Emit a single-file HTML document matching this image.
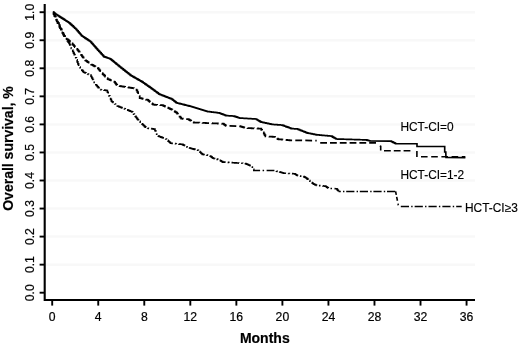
<!DOCTYPE html>
<html><head><meta charset="utf-8"><style>
html,body{margin:0;padding:0;background:#fff;}
svg{display:block;filter:grayscale(1);font-family:"Liberation Sans",sans-serif;}
</style></head><body>
<svg width="520" height="347" viewBox="0 0 520 347">
<rect width="520" height="347" fill="#fff"/>
<g stroke="#f8f8f8" stroke-width="2.5" fill="none"><line x1="46" y1="264.65" x2="475" y2="264.65"/><line x1="46" y1="236.60" x2="475" y2="236.60"/><line x1="46" y1="208.55" x2="475" y2="208.55"/><line x1="46" y1="180.50" x2="475" y2="180.50"/><line x1="46" y1="152.45" x2="475" y2="152.45"/><line x1="46" y1="124.40" x2="475" y2="124.40"/><line x1="46" y1="96.35" x2="475" y2="96.35"/><line x1="46" y1="68.30" x2="475" y2="68.30"/><line x1="46" y1="40.25" x2="475" y2="40.25"/><line x1="46" y1="12.20" x2="475" y2="12.20"/></g>
<g stroke="#000" stroke-width="2.1" fill="none">
<path d="M44.7,4 V300 H475"/>
</g>
<g stroke="#000" stroke-width="1.9" fill="none"><line x1="39.6" y1="292.70" x2="45" y2="292.70"/><line x1="39.6" y1="264.65" x2="45" y2="264.65"/><line x1="39.6" y1="236.60" x2="45" y2="236.60"/><line x1="39.6" y1="208.55" x2="45" y2="208.55"/><line x1="39.6" y1="180.50" x2="45" y2="180.50"/><line x1="39.6" y1="152.45" x2="45" y2="152.45"/><line x1="39.6" y1="124.40" x2="45" y2="124.40"/><line x1="39.6" y1="96.35" x2="45" y2="96.35"/><line x1="39.6" y1="68.30" x2="45" y2="68.30"/><line x1="39.6" y1="40.25" x2="45" y2="40.25"/><line x1="39.6" y1="12.20" x2="45" y2="12.20"/><line x1="52.20" y1="300" x2="52.20" y2="305.6"/><line x1="98.24" y1="300" x2="98.24" y2="305.6"/><line x1="144.28" y1="300" x2="144.28" y2="305.6"/><line x1="190.32" y1="300" x2="190.32" y2="305.6"/><line x1="236.36" y1="300" x2="236.36" y2="305.6"/><line x1="282.40" y1="300" x2="282.40" y2="305.6"/><line x1="328.44" y1="300" x2="328.44" y2="305.6"/><line x1="374.48" y1="300" x2="374.48" y2="305.6"/><line x1="420.52" y1="300" x2="420.52" y2="305.6"/><line x1="466.56" y1="300" x2="466.56" y2="305.6"/></g>
<g font-size="12.2px" fill="#000" stroke="#000" stroke-width="0.2"><text x="52.20" y="320.5" text-anchor="middle">0</text><text x="98.24" y="320.5" text-anchor="middle">4</text><text x="144.28" y="320.5" text-anchor="middle">8</text><text x="190.32" y="320.5" text-anchor="middle">12</text><text x="236.36" y="320.5" text-anchor="middle">16</text><text x="282.40" y="320.5" text-anchor="middle">20</text><text x="328.44" y="320.5" text-anchor="middle">24</text><text x="374.48" y="320.5" text-anchor="middle">28</text><text x="420.52" y="320.5" text-anchor="middle">32</text><text x="466.56" y="320.5" text-anchor="middle">36</text><text transform="translate(34.4,292.70) rotate(-90)" text-anchor="middle">0.0</text><text transform="translate(34.4,264.65) rotate(-90)" text-anchor="middle">0.1</text><text transform="translate(34.4,236.60) rotate(-90)" text-anchor="middle">0.2</text><text transform="translate(34.4,208.55) rotate(-90)" text-anchor="middle">0.3</text><text transform="translate(34.4,180.50) rotate(-90)" text-anchor="middle">0.4</text><text transform="translate(34.4,152.45) rotate(-90)" text-anchor="middle">0.5</text><text transform="translate(34.4,124.40) rotate(-90)" text-anchor="middle">0.6</text><text transform="translate(34.4,96.35) rotate(-90)" text-anchor="middle">0.7</text><text transform="translate(34.4,68.30) rotate(-90)" text-anchor="middle">0.8</text><text transform="translate(34.4,40.25) rotate(-90)" text-anchor="middle">0.9</text><text transform="translate(34.4,12.20) rotate(-90)" text-anchor="middle">1.0</text></g>
<g font-size="11.9px" fill="#000" stroke="#000" stroke-width="0.15">
<text x="400.4" y="131.2">HCT-CI=0</text>
<text x="400.4" y="178.8">HCT-CI=1-2</text>
<text x="465" y="212">HCT-CI≥3</text>
</g>
<g font-size="14px" font-weight="bold" fill="#000" stroke="#000" stroke-width="0.2">
<text x="264.8" y="343.2" text-anchor="middle">Months</text>
<text transform="translate(13.4,148.5) rotate(-90)" text-anchor="middle">Overall survival, %</text>
</g>
<g fill="none" stroke="#000" stroke-linejoin="miter">
<polyline stroke-width="1.65" points="52.90,12.40 53.70,12.40 53.70,12.92 54.51,12.92 54.51,13.44 55.31,13.44 55.31,13.96 56.12,13.96 56.12,14.48 56.92,14.48 56.92,15.00 57.73,15.00 57.73,15.52 58.53,15.52 58.53,16.04 59.34,16.04 59.34,16.56 60.14,16.56 60.14,17.08 60.95,17.08 60.95,17.60 61.75,17.60 61.75,18.12 62.56,18.12 62.56,18.64 63.36,18.64 63.36,19.16 64.17,19.16 64.17,19.68 64.97,19.68 64.97,20.20 65.78,20.20 65.78,20.72 66.59,20.72 66.59,21.24 67.39,21.24 67.39,21.76 68.19,21.76 68.19,22.28 69.00,22.28 69.00,22.80 69.84,22.80 69.84,23.57 70.67,23.57 70.67,24.35 71.51,24.35 71.51,25.12 72.35,25.12 72.35,25.90 73.19,25.90 73.19,26.68 74.03,26.68 74.03,27.45 74.86,27.45 74.86,28.23 75.70,28.23 75.70,29.00 76.53,29.00 76.53,29.96 77.36,29.96 77.36,30.91 78.19,30.91 78.19,31.87 79.01,31.87 79.01,32.83 79.84,32.83 79.84,33.79 80.67,33.79 80.67,34.74 81.50,34.74 81.50,35.70 82.29,35.70 82.29,36.23 83.08,36.23 83.08,36.75 83.87,36.75 83.87,37.28 84.66,37.28 84.66,37.81 85.45,37.81 85.45,38.34 86.25,38.34 86.25,38.86 87.04,38.86 87.04,39.39 87.83,39.39 87.83,39.92 88.62,39.92 88.62,40.45 89.41,40.45 89.41,40.97 90.20,40.97 90.20,41.50 90.97,41.50 90.97,42.37 91.74,42.37 91.74,43.24 92.51,43.24 92.51,44.11 93.28,44.11 93.28,44.98 94.05,44.98 94.05,45.85 94.82,45.85 94.82,46.72 95.59,46.72 95.59,47.59 96.36,47.59 96.36,48.46 97.13,48.46 97.13,49.33 97.90,49.33 97.90,50.20 98.73,50.20 98.73,51.11 99.56,51.11 99.56,52.03 100.39,52.03 100.39,52.94 101.21,52.94 101.21,53.86 102.04,53.86 102.04,54.77 102.87,54.77 102.87,55.69 103.70,55.69 103.70,56.60 104.49,56.60 104.49,56.88 105.28,56.88 105.28,57.15 106.06,57.15 106.06,57.42 106.85,57.42 106.85,57.70 107.64,57.70 107.64,57.98 108.42,57.98 108.42,58.25 109.21,58.25 109.21,58.52 110.00,58.52 110.00,58.80 110.83,58.80 110.83,59.48 111.67,59.48 111.67,60.17 112.50,60.17 112.50,60.85 113.33,60.85 113.33,61.53 114.17,61.53 114.17,62.22 115.00,62.22 115.00,62.90 115.83,62.90 115.83,63.58 116.67,63.58 116.67,64.27 117.50,64.27 117.50,64.95 118.33,64.95 118.33,65.63 119.17,65.63 119.17,66.32 120.00,66.32 120.00,67.00 120.81,67.00 120.81,67.64 121.62,67.64 121.62,68.28 122.42,68.28 122.42,68.92 123.23,68.92 123.23,69.55 124.04,69.55 124.04,70.19 124.85,70.19 124.85,70.83 125.65,70.83 125.65,71.47 126.46,71.47 126.46,72.11 127.27,72.11 127.27,72.75 128.08,72.75 128.08,73.38 128.88,73.38 128.88,74.02 129.69,74.02 129.69,74.66 130.50,74.66 130.50,75.30 131.29,75.30 131.29,75.75 132.09,75.75 132.09,76.20 132.88,76.20 132.88,76.65 133.67,76.65 133.67,77.10 134.46,77.10 134.46,77.55 135.26,77.55 135.26,78.00 136.05,78.00 136.05,78.45 136.84,78.45 136.84,78.90 137.64,78.90 137.64,79.35 138.43,79.35 138.43,79.80 139.22,79.80 139.22,80.25 140.01,80.25 140.01,80.70 140.81,80.70 140.81,81.15 141.60,81.15 141.60,81.60 142.40,81.60 142.40,82.16 143.20,82.16 143.20,82.72 144.00,82.72 144.00,83.27 144.80,83.27 144.80,83.83 145.60,83.83 145.60,84.39 146.40,84.39 146.40,84.95 147.20,84.95 147.20,85.51 148.00,85.51 148.00,86.07 148.80,86.07 148.80,86.62 149.60,86.62 149.60,87.18 150.40,87.18 150.40,87.74 151.20,87.74 151.20,88.30 151.98,88.30 151.98,88.88 152.76,88.88 152.76,89.46 153.54,89.46 153.54,90.04 154.32,90.04 154.32,90.62 155.10,90.62 155.10,91.20 155.88,91.20 155.88,91.78 156.66,91.78 156.66,92.36 157.44,92.36 157.44,92.94 158.22,92.94 158.22,93.52 159.00,93.52 159.00,94.10 159.78,94.10 159.78,94.41 160.56,94.41 160.56,94.71 161.34,94.71 161.34,95.02 162.12,95.02 162.12,95.32 162.91,95.32 162.91,95.63 163.69,95.63 163.69,95.94 164.47,95.94 164.47,96.24 165.25,96.24 165.25,96.55 166.03,96.55 166.03,96.86 166.81,96.86 166.81,97.16 167.59,97.16 167.59,97.47 168.38,97.47 168.38,97.78 169.16,97.78 169.16,98.08 169.94,98.08 169.94,98.39 170.72,98.39 170.72,98.69 171.50,98.69 171.50,99.00 172.30,99.00 172.30,99.63 173.10,99.63 173.10,100.27 173.90,100.27 173.90,100.90 174.70,100.90 174.70,101.53 175.50,101.53 175.50,102.17 176.30,102.17 176.30,102.80 177.12,102.80 177.12,103.01 177.93,103.01 177.93,103.21 178.75,103.21 178.75,103.42 179.56,103.42 179.56,103.62 180.38,103.62 180.38,103.83 181.19,103.83 181.19,104.03 182.01,104.03 182.01,104.24 182.83,104.24 182.83,104.44 183.64,104.44 183.64,104.65 184.46,104.65 184.46,104.85 185.27,104.85 185.27,105.06 186.09,105.06 186.09,105.26 186.91,105.26 186.91,105.47 187.72,105.47 187.72,105.67 188.54,105.67 188.54,105.88 189.35,105.88 189.35,106.08 190.17,106.08 190.17,106.29 190.98,106.29 190.98,106.49 191.80,106.49 191.80,106.70 192.61,106.70 192.61,106.95 193.42,106.95 193.42,107.21 194.23,107.21 194.23,107.46 195.04,107.46 195.04,107.71 195.85,107.71 195.85,107.96 196.66,107.96 196.66,108.22 197.47,108.22 197.47,108.47 198.28,108.47 198.28,108.72 199.09,108.72 199.09,108.97 199.91,108.97 199.91,109.23 200.72,109.23 200.72,109.48 201.53,109.48 201.53,109.73 202.34,109.73 202.34,109.98 203.15,109.98 203.15,110.24 203.96,110.24 203.96,110.49 204.77,110.49 204.77,110.74 205.58,110.74 205.58,110.99 206.39,110.99 206.39,111.25 207.20,111.25 207.20,111.50 207.97,111.50 207.97,111.59 208.75,111.59 208.75,111.69 209.52,111.69 209.52,111.78 210.29,111.78 210.29,111.87 211.07,111.87 211.07,111.97 211.84,111.97 211.84,112.06 212.61,112.06 212.61,112.15 213.39,112.15 213.39,112.25 214.16,112.25 214.16,112.34 214.93,112.34 214.93,112.43 215.71,112.43 215.71,112.53 216.48,112.53 216.48,112.62 217.25,112.62 217.25,112.71 218.03,112.71 218.03,112.81 218.80,112.81 218.80,112.90 219.60,112.90 219.60,113.20 220.40,113.20 220.40,113.50 221.20,113.50 221.20,113.80 222.00,113.80 222.00,114.10 222.80,114.10 222.80,114.40 223.60,114.40 223.60,114.70 224.40,114.70 224.40,115.00 225.20,115.00 225.20,115.30 226.00,115.30 226.00,115.60 226.83,115.60 226.83,115.66 227.67,115.66 227.67,115.71 228.50,115.71 228.50,115.77 229.33,115.77 229.33,115.82 230.17,115.82 230.17,115.88 231.00,115.88 231.00,115.93 231.83,115.93 231.83,115.99 232.67,115.99 232.67,116.04 233.50,116.04 233.50,116.10 234.33,116.10 234.33,116.37 235.16,116.37 235.16,116.64 235.99,116.64 235.99,116.91 236.81,116.91 236.81,117.19 237.64,117.19 237.64,117.46 238.47,117.46 238.47,117.73 239.30,117.73 239.30,118.00 240.12,118.00 240.12,118.05 240.94,118.05 240.94,118.10 241.76,118.10 241.76,118.15 242.58,118.15 242.58,118.20 243.40,118.20 243.40,118.25 244.22,118.25 244.22,118.30 245.04,118.30 245.04,118.35 245.86,118.35 245.86,118.40 246.68,118.40 246.68,118.45 247.50,118.45 247.50,118.50 248.32,118.50 248.32,118.55 249.14,118.55 249.14,118.60 249.96,118.60 249.96,118.65 250.78,118.65 250.78,118.70 251.60,118.70 251.60,118.75 252.42,118.75 252.42,118.80 253.24,118.80 253.24,118.85 254.06,118.85 254.06,118.90 254.88,118.90 254.88,118.95 255.70,118.95 255.70,119.00 256.50,119.00 256.50,119.48 257.30,119.48 257.30,119.97 258.10,119.97 258.10,120.45 258.90,120.45 258.90,120.93 259.70,120.93 259.70,121.42 260.50,121.42 260.50,121.90 261.27,121.90 261.27,122.07 262.05,122.07 262.05,122.23 262.82,122.23 262.82,122.40 263.59,122.40 263.59,122.57 264.37,122.57 264.37,122.73 265.14,122.73 265.14,122.90 265.91,122.90 265.91,123.07 266.69,123.07 266.69,123.23 267.46,123.23 267.46,123.40 268.23,123.40 268.23,123.57 269.01,123.57 269.01,123.73 269.78,123.73 269.78,123.90 270.55,123.90 270.55,124.07 271.33,124.07 271.33,124.23 272.10,124.23 272.10,124.40 272.91,124.40 272.91,124.46 273.72,124.46 273.72,124.52 274.53,124.52 274.53,124.58 275.33,124.58 275.33,124.63 276.14,124.63 276.14,124.69 276.95,124.69 276.95,124.75 277.76,124.75 277.76,124.81 278.57,124.81 278.57,124.87 279.38,124.87 279.38,124.92 280.18,124.92 280.18,124.98 280.99,124.98 280.99,125.04 281.80,125.04 281.80,125.10 282.60,125.10 282.60,125.39 283.40,125.39 283.40,125.68 284.20,125.68 284.20,125.97 285.00,125.97 285.00,126.27 285.80,126.27 285.80,126.56 286.60,126.56 286.60,126.85 287.40,126.85 287.40,127.14 288.20,127.14 288.20,127.43 289.00,127.43 289.00,127.72 289.80,127.72 289.80,128.02 290.60,128.02 290.60,128.31 291.40,128.31 291.40,128.60 292.23,128.60 292.23,128.66 293.06,128.66 293.06,128.71 293.89,128.71 293.89,128.77 294.71,128.77 294.71,128.83 295.54,128.83 295.54,128.89 296.37,128.89 296.37,128.94 297.20,128.94 297.20,129.00 298.01,129.00 298.01,129.32 298.82,129.32 298.82,129.65 299.62,129.65 299.62,129.97 300.43,129.97 300.43,130.30 301.24,130.30 301.24,130.62 302.05,130.62 302.05,130.95 302.86,130.95 302.86,131.28 303.67,131.28 303.67,131.60 304.47,131.60 304.47,131.93 305.28,131.93 305.28,132.25 306.09,132.25 306.09,132.58 306.90,132.58 306.90,132.90 307.70,132.90 307.70,133.06 308.50,133.06 308.50,133.22 309.30,133.22 309.30,133.38 310.10,133.38 310.10,133.53 310.90,133.53 310.90,133.69 311.70,133.69 311.70,133.85 312.50,133.85 312.50,134.01 313.30,134.01 313.30,134.17 314.10,134.17 314.10,134.33 314.90,134.33 314.90,134.48 315.70,134.48 315.70,134.64 316.50,134.64 316.50,134.80 317.32,134.80 317.32,134.87 318.13,134.87 318.13,134.94 318.95,134.94 318.95,135.02 319.77,135.02 319.77,135.09 320.58,135.09 320.58,135.16 321.40,135.16 321.40,135.23 322.22,135.23 322.22,135.31 323.03,135.31 323.03,135.38 323.85,135.38 323.85,135.45 324.67,135.45 324.67,135.52 325.48,135.52 325.48,135.59 326.30,135.59 326.30,135.67 327.12,135.67 327.12,135.74 327.93,135.74 327.93,135.81 328.75,135.81 328.75,135.88 329.57,135.88 329.57,135.96 330.38,135.96 330.38,136.03 331.20,136.03 331.20,136.10 332.02,136.10 332.02,136.58 332.83,136.58 332.83,137.07 333.65,137.07 333.65,137.55 334.47,137.55 334.47,138.03 335.28,138.03 335.28,138.52 336.10,138.52 336.10,139.00 336.91,139.00 336.91,139.02 337.72,139.02 337.72,139.05 338.52,139.05 338.52,139.07 339.33,139.07 339.33,139.10 340.14,139.10 340.14,139.12 340.95,139.12 340.95,139.15 341.76,139.15 341.76,139.17 342.56,139.17 342.56,139.19 343.37,139.19 343.37,139.22 344.18,139.22 344.18,139.24 344.99,139.24 344.99,139.27 345.80,139.27 345.80,139.29 346.61,139.29 346.61,139.32 347.41,139.32 347.41,139.34 348.22,139.34 348.22,139.36 349.03,139.36 349.03,139.39 349.84,139.39 349.84,139.41 350.65,139.41 350.65,139.44 351.45,139.44 351.45,139.46 352.26,139.46 352.26,139.49 353.07,139.49 353.07,139.51 353.88,139.51 353.88,139.54 354.69,139.54 354.69,139.56 355.49,139.56 355.49,139.58 356.30,139.58 356.30,139.61 357.11,139.61 357.11,139.63 357.92,139.63 357.92,139.66 358.73,139.66 358.73,139.68 359.54,139.68 359.54,139.71 360.34,139.71 360.34,139.73 361.15,139.73 361.15,139.75 361.96,139.75 361.96,139.78 362.77,139.78 362.77,139.80 363.58,139.80 363.58,139.83 364.38,139.83 364.38,139.85 365.19,139.85 365.19,139.88 366.00,139.88 366.00,139.90 366.76,139.90 366.76,140.10 367.52,140.10 367.52,140.30 368.28,140.30 368.28,140.50 369.04,140.50 369.04,140.70 369.80,140.70 369.80,140.90 390.40,141.10 391.25,141.10 391.25,141.52 392.10,141.52 392.10,141.93 392.95,141.93 392.95,142.35 393.80,142.35 393.80,142.77 394.65,142.77 394.65,143.18 395.50,143.18 395.50,143.60 416.30,143.70 417.00,143.70 417.00,146.50 444.40,146.50 444.70,146.50 444.70,152.00 445.80,152.00 445.80,153.00 446.00,157.50 465.40,157.60"/>
<polyline stroke-width="1.75" stroke-dasharray="6.8 3.2" points="52.90,12.40 53.67,12.40 53.67,14.20 54.44,14.20 54.44,16.00 55.21,16.00 55.21,17.80 55.99,17.80 55.99,19.60 56.76,19.60 56.76,21.40 57.53,21.40 57.53,23.20 58.30,23.20 58.30,25.00 59.14,25.00 59.14,26.57 59.97,26.57 59.97,28.15 60.81,28.15 60.81,29.73 61.65,29.73 61.65,31.30 62.49,31.30 62.49,32.88 63.33,32.88 63.33,34.45 64.16,34.45 64.16,36.03 65.00,36.03 65.00,37.60 65.84,37.60 65.84,38.30 66.69,38.30 66.69,39.00 67.53,39.00 67.53,39.70 68.37,39.70 68.37,40.40 69.21,40.40 69.21,41.10 70.06,41.10 70.06,41.80 70.90,41.80 70.90,42.50 71.69,42.50 71.69,43.40 72.48,43.40 72.48,44.30 73.27,44.30 73.27,45.20 74.06,45.20 74.06,46.10 74.84,46.10 74.84,47.00 75.63,47.00 75.63,47.90 76.42,47.90 76.42,48.80 77.21,48.80 77.21,49.70 78.00,49.70 78.00,50.60 78.80,50.60 78.80,51.74 79.60,51.74 79.60,52.88 80.40,52.88 80.40,54.01 81.20,54.01 81.20,55.15 82.00,55.15 82.00,56.29 82.80,56.29 82.80,57.43 83.60,57.43 83.60,58.56 84.40,58.56 84.40,59.70 85.25,59.70 85.25,60.30 86.10,60.30 86.10,60.90 86.95,60.90 86.95,61.50 87.80,61.50 87.80,62.10 88.65,62.10 88.65,62.70 89.50,62.70 89.50,63.30 90.35,63.30 90.35,63.90 91.20,63.90 91.20,64.50 92.04,64.50 92.04,64.97 92.88,64.97 92.88,65.45 93.71,65.45 93.71,65.92 94.55,65.92 94.55,66.40 95.39,66.40 95.39,66.88 96.23,66.88 96.23,67.35 97.06,67.35 97.06,67.83 97.90,67.83 97.90,68.30 98.68,68.30 98.68,69.28 99.46,69.28 99.46,70.26 100.24,70.26 100.24,71.24 101.02,71.24 101.02,72.22 101.80,72.22 101.80,73.20 102.63,73.20 102.63,74.03 103.46,74.03 103.46,74.86 104.29,74.86 104.29,75.69 105.11,75.69 105.11,76.51 105.94,76.51 105.94,77.34 106.77,77.34 106.77,78.17 107.60,78.17 107.60,79.00 108.44,79.00 108.44,79.36 109.27,79.36 109.27,79.72 110.11,79.72 110.11,80.09 110.95,80.09 110.95,80.45 111.79,80.45 111.79,80.81 112.62,80.81 112.62,81.18 113.46,81.18 113.46,81.54 114.30,81.54 114.30,81.90 115.03,81.90 115.03,82.85 115.75,82.85 115.75,83.80 116.47,83.80 116.47,84.75 117.20,84.75 117.20,85.70 117.99,85.70 117.99,85.82 118.78,85.82 118.78,85.95 119.57,85.95 119.57,86.07 120.36,86.07 120.36,86.19 121.15,86.19 121.15,86.31 121.95,86.31 121.95,86.44 122.74,86.44 122.74,86.56 123.53,86.56 123.53,86.68 124.32,86.68 124.32,86.80 125.11,86.80 125.11,86.93 125.90,86.93 125.90,87.05 126.69,87.05 126.69,87.17 127.48,87.17 127.48,87.30 128.27,87.30 128.27,87.42 129.06,87.42 129.06,87.54 129.85,87.54 129.85,87.66 130.65,87.66 130.65,87.79 131.44,87.79 131.44,87.91 132.23,87.91 132.23,88.03 133.02,88.03 133.02,88.15 133.81,88.15 133.81,88.28 134.60,88.28 134.60,88.40 135.80,88.40 136.58,88.40 136.58,90.32 137.36,90.32 137.36,92.24 138.14,92.24 138.14,94.16 138.92,94.16 138.92,96.08 139.70,96.08 139.70,98.00 140.47,98.00 140.47,98.19 141.24,98.19 141.24,98.38 142.01,98.38 142.01,98.57 142.78,98.57 142.78,98.76 143.55,98.76 143.55,98.95 144.32,98.95 144.32,99.14 145.09,99.14 145.09,99.33 145.86,99.33 145.86,99.52 146.63,99.52 146.63,99.71 147.40,99.71 147.40,99.90 148.23,99.90 148.23,100.59 149.06,100.59 149.06,101.27 149.89,101.27 149.89,101.96 150.71,101.96 150.71,102.64 151.54,102.64 151.54,103.33 152.37,103.33 152.37,104.01 153.20,104.01 153.20,104.70 153.99,104.70 153.99,104.74 154.78,104.74 154.78,104.77 155.57,104.77 155.57,104.81 156.36,104.81 156.36,104.85 157.15,104.85 157.15,104.88 157.95,104.88 157.95,104.92 158.74,104.92 158.74,104.95 159.53,104.95 159.53,104.99 160.32,104.99 160.32,105.03 161.11,105.03 161.11,105.06 161.90,105.06 161.90,105.10 162.70,105.10 162.70,105.47 163.50,105.47 163.50,105.85 164.30,105.85 164.30,106.22 165.10,106.22 165.10,106.60 165.90,106.60 165.90,106.97 166.70,106.97 166.70,107.35 167.50,107.35 167.50,107.72 168.30,107.72 168.30,108.10 169.10,108.10 169.10,108.47 169.90,108.47 169.90,108.85 170.70,108.85 170.70,109.22 171.50,109.22 171.50,109.60 172.30,109.60 172.30,110.08 173.10,110.08 173.10,110.57 173.90,110.57 173.90,111.05 174.70,111.05 174.70,111.53 175.50,111.53 175.50,112.02 176.30,112.02 176.30,112.50 177.12,112.50 177.12,113.52 177.93,113.52 177.93,114.53 178.75,114.53 178.75,115.55 179.57,115.55 179.57,116.57 180.38,116.57 180.38,117.58 181.20,117.58 181.20,118.60 182.04,118.60 182.04,118.67 182.88,118.67 182.88,118.75 183.71,118.75 183.71,118.83 184.55,118.83 184.55,118.90 185.39,118.90 185.39,118.97 186.22,118.97 186.22,119.05 187.06,119.05 187.06,119.12 187.90,119.12 187.90,119.20 188.73,119.20 188.73,119.67 189.56,119.67 189.56,120.14 190.39,120.14 190.39,120.61 191.21,120.61 191.21,121.09 192.04,121.09 192.04,121.56 192.87,121.56 192.87,122.03 193.70,122.03 193.70,122.50 194.51,122.50 194.51,122.53 195.31,122.53 195.31,122.57 196.12,122.57 196.12,122.60 196.92,122.60 196.92,122.63 197.73,122.63 197.73,122.67 198.53,122.67 198.53,122.70 199.34,122.70 199.34,122.73 200.14,122.73 200.14,122.77 200.95,122.77 200.95,122.80 201.76,122.80 201.76,122.83 202.56,122.83 202.56,122.87 203.37,122.87 203.37,122.90 204.17,122.90 204.17,122.93 204.98,122.93 204.98,122.97 205.78,122.97 205.78,123.00 206.59,123.00 206.59,123.03 207.39,123.03 207.39,123.07 208.20,123.07 208.20,123.10 209.01,123.10 209.01,123.13 209.81,123.13 209.81,123.17 210.62,123.17 210.62,123.20 211.42,123.20 211.42,123.23 212.23,123.23 212.23,123.27 213.03,123.27 213.03,123.30 213.84,123.30 213.84,123.33 214.64,123.33 214.64,123.37 215.45,123.37 215.45,123.40 216.26,123.40 216.26,123.43 217.06,123.43 217.06,123.47 217.87,123.47 217.87,123.50 218.67,123.50 218.67,123.53 219.48,123.53 219.48,123.57 220.28,123.57 220.28,123.60 221.09,123.60 221.09,123.63 221.89,123.63 221.89,123.67 222.70,123.67 222.70,123.70 223.52,123.70 223.52,124.22 224.35,124.22 224.35,124.75 225.18,124.75 225.18,125.28 226.00,125.28 226.00,125.80 239.30,126.10 240.13,126.10 240.13,126.37 240.96,126.37 240.96,126.64 241.79,126.64 241.79,126.91 242.61,126.91 242.61,127.19 243.44,127.19 243.44,127.46 244.27,127.46 244.27,127.73 245.10,127.73 245.10,128.00 245.91,128.00 245.91,128.03 246.72,128.03 246.72,128.06 247.53,128.06 247.53,128.09 248.34,128.09 248.34,128.13 249.15,128.13 249.15,128.16 249.96,128.16 249.96,128.19 250.77,128.19 250.77,128.22 251.58,128.22 251.58,128.25 252.39,128.25 252.39,128.28 253.21,128.28 253.21,128.32 254.02,128.32 254.02,128.35 254.83,128.35 254.83,128.38 255.64,128.38 255.64,128.41 256.45,128.41 256.45,128.44 257.26,128.44 257.26,128.47 258.07,128.47 258.07,128.51 258.88,128.51 258.88,128.54 259.69,128.54 259.69,128.57 260.50,128.57 260.50,128.60 261.32,128.60 261.32,129.88 262.13,129.88 262.13,131.17 262.95,131.17 262.95,132.45 263.77,132.45 263.77,133.73 264.58,133.73 264.58,135.02 265.40,135.02 265.40,136.30 266.20,136.30 266.20,136.35 267.00,136.35 267.00,136.40 267.80,136.40 267.80,136.45 268.60,136.45 268.60,136.50 269.40,136.50 269.40,136.55 270.20,136.55 270.20,136.60 271.00,136.60 271.00,136.65 271.80,136.65 271.80,136.70 272.60,136.70 272.60,136.75 273.40,136.75 273.40,136.80 274.20,136.80 274.20,136.85 275.00,136.85 275.00,136.90 275.73,136.90 275.73,137.47 276.45,137.47 276.45,138.05 277.17,138.05 277.17,138.62 277.90,138.62 277.90,139.20 278.67,139.20 278.67,139.26 279.44,139.26 279.44,139.32 280.21,139.32 280.21,139.38 280.98,139.38 280.98,139.44 281.75,139.44 281.75,139.50 282.52,139.50 282.52,139.56 283.29,139.56 283.29,139.62 284.06,139.62 284.06,139.68 284.83,139.68 284.83,139.74 285.60,139.74 285.60,139.80 286.38,139.80 286.38,139.90 287.16,139.90 287.16,140.00 287.94,140.00 287.94,140.10 288.72,140.10 288.72,140.20 289.50,140.20 289.50,140.30 316.70,140.60"/>
<polyline stroke-width="1.6" stroke-dasharray="7.8 2.5 1.5 2.5" points="52.90,12.40 53.65,12.40 53.65,13.87 54.40,13.87 54.40,15.33 55.15,15.33 55.15,16.80 55.90,16.80 55.90,18.27 56.65,18.27 56.65,19.73 57.40,19.73 57.40,21.20 58.23,21.20 58.23,23.13 59.06,23.13 59.06,25.06 59.89,25.06 59.89,26.99 60.71,26.99 60.71,28.91 61.54,28.91 61.54,30.84 62.37,30.84 62.37,32.77 63.20,32.77 63.20,34.70 64.03,34.70 64.03,35.94 64.86,35.94 64.86,37.19 65.69,37.19 65.69,38.43 66.51,38.43 66.51,39.67 67.34,39.67 67.34,40.91 68.17,40.91 68.17,42.16 69.00,42.16 69.00,43.40 69.75,43.40 69.75,45.05 70.50,45.05 70.50,46.70 71.25,46.70 71.25,48.35 72.00,48.35 72.00,50.00 72.74,50.00 72.74,51.54 73.48,51.54 73.48,53.08 74.22,53.08 74.22,54.62 74.96,54.62 74.96,56.16 75.70,56.16 75.70,57.70 76.42,57.70 76.42,59.78 77.15,59.78 77.15,61.85 77.88,61.85 77.88,63.92 78.60,63.92 78.60,66.00 79.40,66.00 79.40,67.03 80.20,67.03 80.20,68.07 81.00,68.07 81.00,69.10 81.80,69.10 81.80,70.13 82.60,70.13 82.60,71.17 83.40,71.17 83.40,72.20 84.25,72.20 84.25,72.56 85.10,72.56 85.10,72.92 85.95,72.92 85.95,73.29 86.80,73.29 86.80,73.65 87.65,73.65 87.65,74.01 88.50,74.01 88.50,74.38 89.35,74.38 89.35,74.74 90.20,74.74 90.20,75.10 91.00,75.10 91.00,76.55 91.80,76.55 91.80,78.00 92.60,78.00 92.60,79.45 93.40,79.45 93.40,80.90 94.20,80.90 94.20,82.35 95.00,82.35 95.00,83.80 95.80,83.80 95.80,84.77 96.60,84.77 96.60,85.73 97.40,85.73 97.40,86.70 98.20,86.70 98.20,87.67 99.00,87.67 99.00,88.63 99.80,88.63 99.80,89.60 100.65,89.60 100.65,89.71 101.50,89.71 101.50,89.82 102.35,89.82 102.35,89.94 103.20,89.94 103.20,90.05 104.05,90.05 104.05,90.16 104.90,90.16 104.90,90.28 105.75,90.28 105.75,90.39 106.60,90.39 106.60,90.50 107.40,90.50 107.40,92.28 108.20,92.28 108.20,94.07 109.00,94.07 109.00,95.85 109.80,95.85 109.80,97.63 110.60,97.63 110.60,99.42 111.40,99.42 111.40,101.20 112.23,101.20 112.23,101.89 113.06,101.89 113.06,102.57 113.89,102.57 113.89,103.26 114.71,103.26 114.71,103.94 115.54,103.94 115.54,104.63 116.37,104.63 116.37,105.31 117.20,105.31 117.20,106.00 118.01,106.00 118.01,106.32 118.82,106.32 118.82,106.63 119.62,106.63 119.62,106.95 120.43,106.95 120.43,107.27 121.24,107.27 121.24,107.58 122.05,107.58 122.05,107.90 122.86,107.90 122.86,108.22 123.67,108.22 123.67,108.53 124.48,108.53 124.48,108.85 125.28,108.85 125.28,109.17 126.09,109.17 126.09,109.48 126.90,109.48 126.90,109.80 127.73,109.80 127.73,110.15 128.57,110.15 128.57,110.50 129.40,110.50 129.40,110.85 130.23,110.85 130.23,111.20 131.07,111.20 131.07,111.55 131.90,111.55 131.90,111.90 132.73,111.90 132.73,113.01 133.56,113.01 133.56,114.13 134.39,114.13 134.39,115.24 135.21,115.24 135.21,116.36 136.04,116.36 136.04,117.47 136.87,117.47 136.87,118.59 137.70,118.59 137.70,119.70 138.53,119.70 138.53,120.53 139.36,120.53 139.36,121.36 140.19,121.36 140.19,122.19 141.02,122.19 141.02,123.02 141.85,123.02 141.85,123.85 142.68,123.85 142.68,124.68 143.51,124.68 143.51,125.51 144.34,125.51 144.34,126.34 145.17,126.34 145.17,127.17 146.00,127.17 146.00,128.00 146.81,128.00 146.81,128.11 147.62,128.11 147.62,128.22 148.43,128.22 148.43,128.33 149.24,128.33 149.24,128.44 150.05,128.44 150.05,128.55 150.86,128.55 150.86,128.66 151.67,128.66 151.67,128.77 152.48,128.77 152.48,128.88 153.29,128.88 153.29,128.99 154.10,128.99 154.10,129.10 154.95,129.10 154.95,130.78 155.80,130.78 155.80,132.45 156.65,132.45 156.65,134.12 157.50,134.12 157.50,135.80 158.32,135.80 158.32,136.12 159.14,136.12 159.14,136.44 159.96,136.44 159.96,136.76 160.78,136.76 160.78,137.08 161.60,137.08 161.60,137.40 162.42,137.40 162.42,137.72 163.24,137.72 163.24,138.04 164.06,138.04 164.06,138.36 164.88,138.36 164.88,138.68 165.70,138.68 165.70,139.00 166.50,139.00 166.50,139.70 167.30,139.70 167.30,140.40 168.10,140.40 168.10,141.10 168.90,141.10 168.90,141.80 169.70,141.80 169.70,142.50 170.50,142.50 170.50,143.20 171.33,143.20 171.33,143.29 172.16,143.29 172.16,143.37 172.99,143.37 172.99,143.46 173.81,143.46 173.81,143.54 174.64,143.54 174.64,143.63 175.47,143.63 175.47,143.71 176.30,143.71 176.30,143.80 177.13,143.80 177.13,143.89 177.96,143.89 177.96,143.97 178.79,143.97 178.79,144.06 179.61,144.06 179.61,144.14 180.44,144.14 180.44,144.23 181.27,144.23 181.27,144.31 182.10,144.31 182.10,144.40 182.93,144.40 182.93,144.86 183.76,144.86 183.76,145.31 184.59,145.31 184.59,145.77 185.41,145.77 185.41,146.23 186.24,146.23 186.24,146.69 187.07,146.69 187.07,147.14 187.90,147.14 187.90,147.60 188.71,147.60 188.71,147.82 189.52,147.82 189.52,148.03 190.32,148.03 190.32,148.25 191.13,148.25 191.13,148.47 191.94,148.47 191.94,148.68 192.75,148.68 192.75,148.90 193.56,148.90 193.56,149.12 194.37,149.12 194.37,149.33 195.18,149.33 195.18,149.55 195.98,149.55 195.98,149.77 196.79,149.77 196.79,149.98 197.60,149.98 197.60,150.20 198.40,150.20 198.40,150.90 199.20,150.90 199.20,151.60 200.00,151.60 200.00,152.30 200.80,152.30 200.80,153.00 201.60,153.00 201.60,153.70 202.40,153.70 202.40,154.40 203.25,154.40 203.25,154.53 204.10,154.53 204.10,154.65 204.95,154.65 204.95,154.78 205.80,154.78 205.80,154.90 206.65,154.90 206.65,155.03 207.50,155.03 207.50,155.15 208.35,155.15 208.35,155.28 209.20,155.28 209.20,155.40 209.96,155.40 209.96,155.98 210.72,155.98 210.72,156.56 211.48,156.56 211.48,157.14 212.24,157.14 212.24,157.72 213.00,157.72 213.00,158.30 213.83,158.30 213.83,158.51 214.66,158.51 214.66,158.73 215.49,158.73 215.49,158.94 216.31,158.94 216.31,159.16 217.14,159.16 217.14,159.37 217.97,159.37 217.97,159.59 218.80,159.59 218.80,159.80 219.58,159.80 219.58,160.26 220.36,160.26 220.36,160.72 221.14,160.72 221.14,161.18 221.92,161.18 221.92,161.64 222.70,161.64 222.70,162.10 223.50,162.10 223.50,162.15 224.30,162.15 224.30,162.20 225.10,162.20 225.10,162.25 225.90,162.25 225.90,162.30 226.70,162.30 226.70,162.35 227.50,162.35 227.50,162.40 228.30,162.40 228.30,162.45 229.10,162.45 229.10,162.50 229.90,162.50 229.90,162.55 230.70,162.55 230.70,162.60 231.50,162.60 231.50,162.65 232.30,162.65 232.30,162.70 233.10,162.70 233.10,162.75 233.90,162.75 233.90,162.80 234.70,162.80 234.70,162.85 235.50,162.85 235.50,162.90 236.30,162.90 236.30,162.95 237.10,162.95 237.10,163.00 237.90,163.00 237.90,163.05 238.70,163.05 238.70,163.10 239.50,163.10 239.50,163.15 240.30,163.15 240.30,163.20 241.10,163.20 241.10,163.25 241.90,163.25 241.90,163.30 242.70,163.30 242.70,163.35 243.50,163.35 243.50,163.40 244.30,163.40 244.30,163.45 245.10,163.45 245.10,163.50 245.93,163.50 245.93,163.86 246.76,163.86 246.76,164.21 247.59,164.21 247.59,164.57 248.41,164.57 248.41,164.93 249.24,164.93 249.24,165.29 250.07,165.29 250.07,165.64 250.90,165.64 250.90,166.00 251.62,166.00 251.62,167.12 252.35,167.12 252.35,168.25 253.08,168.25 253.08,169.38 253.80,169.38 253.80,170.50 274.00,170.50 274.81,170.50 274.81,170.72 275.62,170.72 275.62,170.95 276.43,170.95 276.43,171.18 277.23,171.18 277.23,171.40 278.04,171.40 278.04,171.62 278.85,171.62 278.85,171.85 279.66,171.85 279.66,172.07 280.47,172.07 280.47,172.30 281.27,172.30 281.27,172.52 282.08,172.52 282.08,172.75 282.89,172.75 282.89,172.97 283.70,172.97 283.70,173.20 284.52,173.20 284.52,173.25 285.33,173.25 285.33,173.29 286.15,173.29 286.15,173.34 286.96,173.34 286.96,173.38 287.78,173.38 287.78,173.43 288.59,173.43 288.59,173.48 289.41,173.48 289.41,173.52 290.22,173.52 290.22,173.57 291.04,173.57 291.04,173.62 291.85,173.62 291.85,173.66 292.67,173.66 292.67,173.71 293.48,173.71 293.48,173.75 294.30,173.75 294.30,173.80 295.10,173.80 295.10,174.30 295.90,174.30 295.90,174.80 296.70,174.80 296.70,175.30 297.50,175.30 297.50,175.80 298.29,175.80 298.29,175.87 299.07,175.87 299.07,175.94 299.86,175.94 299.86,176.01 300.64,176.01 300.64,176.09 301.43,176.09 301.43,176.16 302.21,176.16 302.21,176.23 303.00,176.23 303.00,176.30 303.75,176.30 303.75,176.73 304.50,176.73 304.50,177.15 305.25,177.15 305.25,177.57 306.00,177.57 306.00,178.00 306.78,178.00 306.78,178.64 307.56,178.64 307.56,179.29 308.33,179.29 308.33,179.93 309.11,179.93 309.11,180.58 309.89,180.58 309.89,181.22 310.67,181.22 310.67,181.87 311.44,181.87 311.44,182.51 312.22,182.51 312.22,183.16 313.00,183.16 313.00,183.80 313.88,183.80 313.88,184.20 314.75,184.20 314.75,184.60 315.62,184.60 315.62,185.00 316.50,185.00 316.50,185.40 317.31,185.40 317.31,185.47 318.12,185.47 318.12,185.55 318.93,185.55 318.93,185.62 319.74,185.62 319.74,185.69 320.55,185.69 320.55,185.76 321.35,185.76 321.35,185.84 322.16,185.84 322.16,185.91 322.97,185.91 322.97,185.98 323.78,185.98 323.78,186.05 324.59,186.05 324.59,186.13 325.40,186.13 325.40,186.20 326.12,186.20 326.12,186.75 326.85,186.75 326.85,187.30 327.57,187.30 327.57,187.85 328.30,187.85 328.30,188.40 336.30,188.70 337.03,188.70 337.03,189.60 337.77,189.60 337.77,190.50 338.50,190.50 338.50,191.40"/>
<polyline stroke-width="1.5" stroke-dasharray="8.2 2.2 1.4 2.05" points="400.80,206.40 461.70,206.40"/>
<polyline stroke-width="1.5" stroke-dasharray="8.2 2.2 1.4 1.8" stroke-dashoffset="6" points="338.60,191.40 395.40,191.40"/>
<polyline stroke-width="1.6" stroke-dasharray="3.5 2 4 3 1.5 10" points="395.60,191.40 396.90,198.00 398.30,204.90 400.60,206.40"/>
<polyline stroke-width="1.6" stroke-dasharray="6.8 3.0" points="320.20,142.90 377.80,142.90"/>
<polyline stroke-width="1.6" points="379.80,146.10 380.70,146.40 380.70,150.60"/>
<polyline stroke-width="1.6" stroke-dasharray="6.8 3.0" points="384.00,150.70 412.80,150.70"/>
<polyline stroke-width="1.6" points="416.90,151.00 416.90,157.00"/>
<polyline stroke-width="1.6" stroke-dasharray="6.6 3.6" points="421.00,156.70 465.30,156.70"/>
</g>
</svg>
</body></html>
